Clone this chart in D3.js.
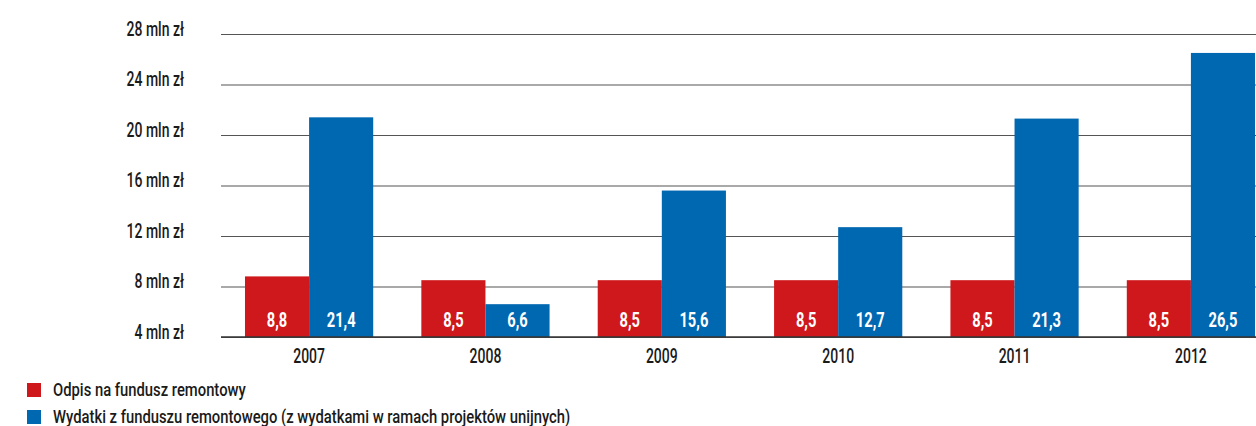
<!DOCTYPE html>
<html lang="pl">
<head>
  <meta charset="UTF-8">
  <title>Fundusz remontowy</title>
  <script src="https://d3js.org/d3.v7.min.js"></script>
  <style>
    body { margin: 0; background: #fff; }
    text { font-family: Roboto, "Liberation Sans", sans-serif; }
    .tick-label { font-size: 20px; font-weight: 500; fill: #1a1a1a; }
    .val { font-size: 21px; font-weight: bold; fill: #fff; }
    .legend { font-size: 19px; font-weight: 500; fill: #1a1a1a; }
  </style>
</head>
<body>
  <svg width="1256" height="426"></svg>

  <script>
    // data
    const years = ["2007", "2008", "2009", "2010", "2011", "2012"];
    const odpis = [8.8, 8.5, 8.5, 8.5, 8.5, 8.5];
    const wydatki = [21.4, 6.6, 15.6, 12.7, 21.3, 26.5];
    const yTicks = [4, 8, 12, 16, 20, 24, 28];
    const seriesNames = ["Odpis na fundusz remontowy",
      "Wydatki z funduszu remontowego (z wydatkami w ramach projektów unijnych)"];
    const colors = ["#cf181c", "#0067b1"];

    const svg = d3.select("svg");
    const plotLeft = 221, plotRight = 1279, plotTop = 34, plotBottom = 337;
    const sx = 0.7; // horizontal squeeze, imitates the condensed face

    const x = d3.scaleBand()
      .domain(years)
      .range([plotLeft, plotRight])
      .paddingInner(0.273)
      .paddingOuter(0.136);

    const x1 = d3.scaleBand()
      .domain([0, 1])
      .range([0, x.bandwidth()]);

    const y = d3.scaleLinear()
      .domain([4, 28])
      .range([plotBottom, plotTop]);

    // gridlines + y labels
    const yAxis = svg.append("g")
      .attr("transform", "translate(" + plotLeft + ",0)")
      .call(d3.axisLeft(y).tickValues(yTicks).tickSize(-(1256 - plotLeft)).tickFormat(d => d + " mln zł"));
    yAxis.attr("font-family", null).attr("font-size", null);
    yAxis.select(".domain").remove();
    yAxis.selectAll(".tick line").attr("stroke", "#555").attr("stroke-width", 1.2);
    yAxis.selectAll(".tick text")
      .attr("class", "tick-label")
      .attr("x", -37 / sx)
      .attr("y", 1)
      .attr("dy", null)
      .attr("transform", "scale(" + sx + ",1)");

    // bars
    const groups = svg.append("g").selectAll("g")
      .data(years.map((yr, i) => ({ yr, vals: [odpis[i], wydatki[i]] })))
      .join("g")
      .attr("transform", d => "translate(" + x(d.yr) + ",0)");

    groups.selectAll("rect")
      .data(d => d.vals)
      .join("rect")
      .attr("x", (d, i) => x1(i))
      .attr("y", d => y(d))
      .attr("width", x1.bandwidth())
      .attr("height", d => y(4) - y(d))
      .attr("fill", (d, i) => colors[i]);

    groups.selectAll("text.val")
      .data(d => d.vals)
      .join("text")
      .attr("class", "val")
      .attr("transform", (d, i) => "translate(" + (x1(i) + x1.bandwidth() / 2) + "," + (y(4) - 10) + ") scale(" + sx + ",1)")
      .attr("text-anchor", "middle")
      .text(d => d3.format(".1f")(d).replace(".", ","));

    // baseline
    svg.append("line")
      .attr("x1", plotLeft).attr("x2", 1256)
      .attr("y1", y(4)).attr("y2", y(4))
      .attr("stroke", "#333").attr("stroke-width", 1.3);

    // x labels
    svg.append("g").selectAll("text")
      .data(years)
      .join("text")
      .attr("class", "tick-label")
      .attr("transform", d => "translate(" + (x(d) + x.bandwidth() / 2) + ",363) scale(" + sx + ",1)")
      .attr("text-anchor", "middle")
      .text(d => d);

    // legend
    const leg = svg.append("g").selectAll("g")
      .data(seriesNames)
      .join("g")
      .attr("transform", (d, i) => "translate(27," + (383 + i * 27) + ")");
    leg.append("rect").attr("width", 14).attr("height", 14).attr("fill", (d, i) => colors[i]);
    leg.append("text").attr("class", "legend")
      .attr("transform", "translate(26,13) scale(0.78,1)")
      .text(d => d);
  </script>
</body>
</html>
